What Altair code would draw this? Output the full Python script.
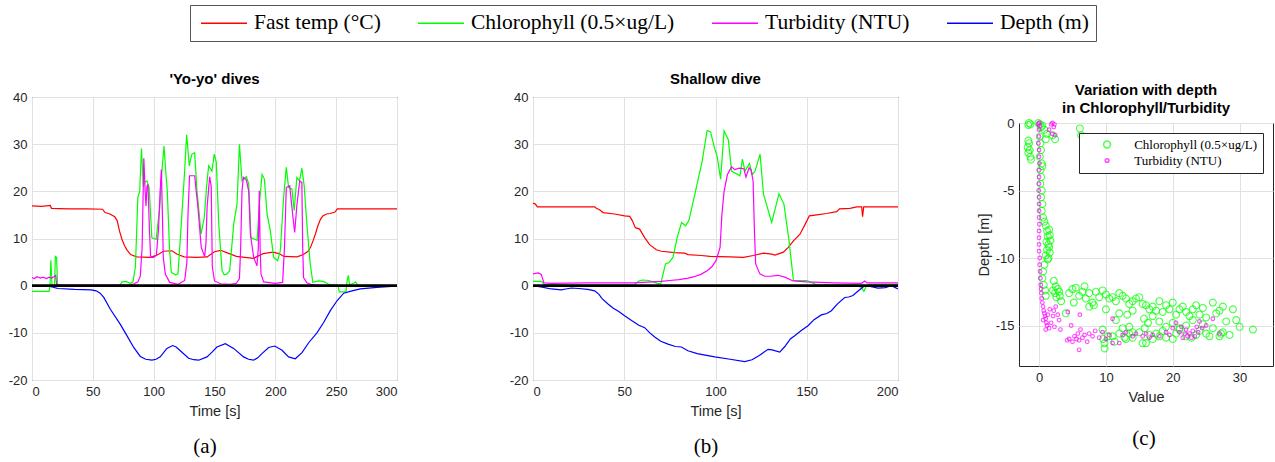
import altair as alt
import pandas as pd

# ---------------- categories / ticks ----------------
SERIES = ["Fast temp (°C)", "Chlorophyll (0.5×ug/L)", "Turbidity (NTU)", "Depth (m)"]
SERIES_COLORS = ["#ff0000", "#00ff00", "#ff00ff", "#0000ff"]
a_xticks = [0, 50, 100, 150, 200, 250, 300]
b_xticks = [0, 50, 100, 150, 200]
ab_yticks = [-20, -10, 0, 10, 20, 30, 40]
c_xticks = [0, 10, 20, 30]
c_yticks = [0, -5, -10, -15]

# ---------------- panel (a): 'Yo-yo' dives, (time s, value) ----------------
a_temp = [(0, 16.9), (8, 16.8), (15, 17.0), (16, 16.4), (30, 16.3), (45, 16.3), (58, 16.2), (60, 15.5),
          (64, 15.2), (68, 14.6), (70, 13.8), (72, 11.5), (74, 9.8), (76, 8.5), (78, 7.6), (81, 6.6),
          (86, 6.1), (97, 6.0), (103, 6.5), (108, 7.3), (115, 7.4), (119, 6.7), (125, 6.1), (135, 6.0),
          (144, 6.1), (150, 7.2), (155, 7.5), (160, 7.0), (168, 6.2), (175, 6.0), (182, 5.8), (190, 6.8),
          (198, 7.1), (203, 6.8), (207, 6.2), (218, 6.1), (223, 6.6), (227, 7.3), (229, 8.2), (231, 9.5),
          (233, 11.0), (235, 12.7), (237, 14.0), (239, 14.8), (242, 15.2), (245, 15.3), (249, 15.6),
          (251, 16.3), (270, 16.3), (300, 16.3)]
a_chl = [(0, -1.2), (14, -1.2), (14.8, 0), (15.5, 5.4), (16.5, 0), (18.5, 0), (19.2, 6.2), (20.2, 6.0),
         (21, 0), (40, 0), (72, 0), (74, 0.8), (77, 0.9), (81, 0.5), (83, 0.8), (85, 4), (87, 18.7),
         (88.5, 20), (90, 29.1), (91.5, 21), (92.5, 22), (94.5, 22.2), (96.3, 20.8), (98.5, 10.2),
         (102, 9.8), (105, 16.6), (107, 25), (108.5, 29.6), (110, 24), (111.2, 20.1), (113, 8),
         (114.5, 2.8), (118, 2.3), (120, 2.5), (122.7, 13.1), (125.3, 23.6), (127.1, 32), (129.3, 25.4),
         (130.5, 27), (131.5, 27.9), (133.7, 28.2), (135.6, 20.1), (137.5, 15), (138.9, 10.9),
         (141.6, 14.4), (143.5, 21), (145.2, 25.4), (147.9, 24.3), (149.8, 27.9), (151.5, 26.1),
         (153.5, 13.1), (156.2, 3.2), (158, 2.3), (160.3, 2.5), (162.5, 3.2), (165.8, 13.1),
         (168.5, 17.3), (170.5, 30), (172.6, 22.2), (176.2, 23.1), (178.1, 21.6), (180, 10.2),
         (185, 9.6), (187.1, 18), (189.1, 23.6), (191, 22.6), (193.2, 15.2), (195.9, 11.6), (198.6, 6),
         (201.9, 5.3), (204.1, 7.4), (206.8, 18.7), (209, 25.1), (210.9, 20.8), (213.6, 20.5),
         (215.5, 15.9), (217.7, 22.9), (219.9, 22.2), (221.8, 24.9), (223.7, 21.2), (225.9, 13.1),
         (228.7, 4.6), (230.8, 0.7), (235.5, 1.0), (239.6, 0.9), (243.7, 0.3), (251.5, 0.1),
         (252.5, -1.3), (258, -1.3), (259, 1), (260, 2.2), (261, 0.2), (264.3, 0.5), (266, 0.8),
         (267.5, 0.1), (300, 0)]
a_turb = [(0, 1.7), (2, 1.5), (4, 1.9), (7, 1.6), (9, 1.8), (12, 1.5), (14, 1.8), (16, 1.6), (18, 1.9),
          (19.5, 2.2), (20.2, 0.2), (25, 0.1), (80, 0.1), (84, 0.4), (87, 0.8), (89, 2), (90.5, 8),
          (91.9, 27), (93, 20), (93.7, 16.9), (94.5, 21), (95.3, 21.5), (96.5, 12), (97.5, 6), (100, 6),
          (102.2, 6.4), (104, 12), (105.3, 20), (106.3, 24.6), (107.2, 15), (107.9, 6), (109.6, 2.4),
          (113.2, 0.7), (120, 0.3), (125.5, 1.1), (127.3, 5), (128.2, 15), (129.5, 23.3), (133.7, 23.3),
          (135, 20), (136.4, 16.6), (139.1, 8.1), (141.9, 6.2), (143, 9), (143.9, 16.6), (146, 23.1),
          (147.3, 21), (148.2, 4), (150, 1), (155, 0.4), (163, 0.3), (168, 0.5), (170.5, 1.5),
          (171.5, 8), (172.6, 20), (173.7, 23), (176.2, 22.4), (178.1, 20.1), (179.5, 10.9), (182.2, 6),
          (184.9, 4.2), (186, 8), (186.8, 20.1), (187.5, 8), (188.2, 2.5), (190.4, 0.8), (200, 0.5),
          (206, 0.7), (207.5, 8), (209, 20.8), (211.8, 21.2), (214.5, 14.5), (215.9, 11.3),
          (217.8, 17.3), (220, 22.2), (221.8, 21.9), (222.5, 8), (223.2, 1.7), (225.9, 0.6), (230, 0.2),
          (240, 0), (300, 0)]
a_depth = [(14, -0.1), (21.4, -0.6), (35, -0.8), (48.7, -0.9), (52.8, -1.1), (56, -1.6), (59, -2.5),
           (64.4, -5.0), (72.6, -8.2), (78, -10.6), (83.6, -13.1), (89, -15.0), (93.5, -15.6),
           (98.6, -15.8), (102, -15.6), (105.4, -15.1), (110.9, -13.3), (115.6, -12.7), (118.5, -13.0),
           (121.9, -13.8), (128.7, -15.4), (133, -15.7), (137, -15.8), (143.8, -15.1), (148, -14.1),
           (152, -13.0), (158.9, -12.3), (165.7, -13.3), (173.9, -15.1), (178, -15.6), (182.1, -15.8),
           (185.5, -15.3), (189, -14.4), (194.5, -13.1), (199.5, -12.8), (205.5, -13.7), (210.9, -15.1),
           (216.4, -15.5), (221.9, -14.2), (227.4, -12.1), (234.2, -10), (239.7, -7.8), (245.2, -5.3),
           (250.7, -3.2), (256.2, -1.6), (263, -1.1), (269.8, -0.7), (283.5, -0.35), (298.6, -0.1),
           (300, -0.05)]

# ---------------- panel (b): Shallow dive ----------------
b_temp = [(0, 17.5), (1.3, 17.3), (2.4, 16.7), (20, 16.7), (33.8, 16.7), (34.7, 16.4), (36.5, 16.1),
          (38.4, 15.5), (44.7, 15.2), (50.2, 14.8), (53, 14.7), (54.4, 13.8), (56.1, 12.3), (58.4, 12.0),
          (61.2, 10.2), (63.9, 8.7), (67.6, 7.6), (70.3, 7.3), (77.6, 7.0), (83.1, 6.9), (84.9, 6.6),
          (92.2, 6.4), (97, 6.2), (108, 6.1), (115.3, 6.0), (120.8, 6.4), (126.2, 6.9), (130.8, 6.7),
          (132.6, 6.5), (137.2, 7.1), (139.9, 8.1), (142.7, 9.5), (146.3, 10.9), (149.1, 13.0),
          (151.4, 14.8), (155.5, 15.0), (160.9, 15.3), (166.4, 15.7), (167.9, 16.3), (173.7, 16.4),
          (177.4, 16.7), (180.1, 16.7), (180.6, 14.6), (181.2, 16.7), (200, 16.7)]
b_chl = [(0, 0.9), (4.6, 0.9), (6, 0.3), (20, 0.1), (55, 0.1), (58, 1.0), (60, 1.2), (63.5, 1.1), (68, 0.5),
         (70, 0.4), (72.6, 4.6), (74.5, 4.9), (76.7, 6.0), (79, 10.2), (81.4, 13.4), (83.6, 12.7),
         (85.4, 13.8), (89.1, 20.1), (92.7, 26.4), (95.4, 32.9), (97.3, 32.6), (99.2, 29.6), (101, 27.2),
         (102.8, 22.6), (104.7, 32.8), (107, 31), (108.8, 24.3), (113.4, 23.3), (114.7, 26.8),
         (116.2, 24.3), (118.6, 25.9), (120.2, 23.6), (121.7, 24.3), (124.4, 27.9), (126.3, 19.4),
         (130.8, 13.4), (134.8, 19.5), (137.5, 17.3), (140.3, 9.5), (142.7, 1.1), (150, 1.1),
         (151.8, 0.8), (155.5, 0.2), (178, 0.1), (180, -0.5), (181.3, -1.2), (182.5, -0.2), (184, 0.3),
         (200, 0.3)]
b_turb = [(0, 2.5), (3, 2.7), (4.5, 2.4), (6, 0.6), (10, 0.5), (30, 0.6), (55, 0.6), (65, 0.8), (70, 0.9),
          (75, 1.1), (80, 1.3), (85, 1.6), (88.3, 1.9), (92, 2.4), (95.6, 3.2), (98, 4), (100.3, 5.3),
          (102.5, 8.1), (103.5, 15), (104.7, 20), (106.5, 23.5), (108.8, 25.2), (110.5, 24.6), (113, 24.9),
          (115.5, 24.8), (116.7, 23), (118.4, 25), (119.5, 24.5), (120.6, 22.2), (121.3, 12), (122, 4.6),
          (124.3, 2.5), (127, 2.0), (130, 2.0), (134.3, 2.2), (138, 1.8), (142.5, 1.0), (150, 0.8),
          (165, 0.6), (180, 0.5), (181.8, 1.0), (183, 0.6), (200, 0.6)]
b_depth = [(0, 0), (5, -0.3), (10, -0.7), (15.5, -0.9), (18, -0.7), (21, -0.5), (25, -0.6), (30, -0.8),
           (33.8, -1.1), (36, -1.8), (38, -2.8), (41.1, -3.9), (44, -4.8), (47, -5.5), (50.2, -6.4),
           (54, -7.4), (58, -8.4), (61.2, -8.9), (64, -10), (66.7, -10.9), (70, -11.8), (74, -12.4),
           (78, -12.9), (81.3, -13.0), (84.9, -13.8), (90, -14.4), (99.6, -15.1), (108, -15.6),
           (116, -16.1), (120, -15.7), (124, -14.8), (128.8, -13.5), (131, -13.6), (135.2, -14.1),
           (138, -12.9), (141, -11.3), (143.4, -10.6), (147, -9.5), (150.7, -8.5), (154, -7.2),
           (158, -6.2), (161, -5.9), (163.5, -5.3), (167, -3.8), (170.8, -2.5), (173, -2.4),
           (175.3, -2.1), (178, -1.2), (181.7, 0), (184, -0.1), (189, -0.5), (193, -0.4), (196.3, 0),
           (200, -0.7)]

# ---------------- panel (c): (value, depth m) ----------------
chl_points = [
    (-1.5, 0), (-1.3, -0.1), (-1.6, -0.15), (-0.1, 0), (0.1, -0.1), (0.3, -0.3), (0.5, -0.2), (0.8, -0.5),
    (1.2, -0.8), (1.0, -1.2), (2.0, -0.9), (2.4, -1.2), (6.1, -0.4), (6.3, -0.9),
    (-1.6, -1.3), (-1.5, -1.5), (-1.7, -1.8), (-1.4, -2.0), (-1.6, -2.2), (-1.3, -2.5), (-1.2, -2.7),
    (0.1, -1.0), (0.2, -1.5), (0.3, -2.0), (0.1, -2.5), (0.4, -3.0), (0.2, -3.5), (0.5, -3.2), (0.3, -4.0),
    (0.2, -4.5), (0.4, -5.0), (0.3, -5.5), (0.5, -6.0), (0.4, -6.5), (0.6, -7.0), (0.8, -7.3), (1.0, -7.6),
    (1.2, -8.0), (1.3, -8.4), (1.1, -8.8), (1.4, -9.0), (1.2, -9.4), (1.0, -9.8), (1.3, -10.1), (0.8, -10.5),
    (0.6, -11.0), (0.5, -11.5), (0.7, -12.0), (0.9, -12.4), (1.0, -12.8),
    (1.5, -7.9), (1.6, -8.3), (1.7, -8.7), (1.5, -9.2), (1.6, -9.6), (1.4, -10.0),
    (2.2, -11.7), (2.5, -12.1), (2.8, -12.3), (2.4, -12.6), (3.0, -12.5), (2.6, -12.9), (3.1, -12.8),
    (2.1, -12.4), (3.3, -13.2), (5.2, -13.3), (6.8, -12.1),
    (4.5, -12.6), (5, -12.3), (5.5, -12.2), (6, -12.8), (6.5, -12.5), (7, -13), (7.5, -12.6), (8, -13.3),
    (8.5, -12.5), (9, -12.9), (9.5, -12.4), (10, -12.7), (10.5, -13), (11, -12.9), (11.5, -13.2),
    (12, -12.6), (12.5, -12.8), (13, -13), (13.5, -13.4), (14, -13.2), (14.5, -13), (15, -12.9),
    (15.5, -13.4), (16, -13.5), (16.5, -13.8), (17, -13.6), (17.5, -13.9), (18, -13.2), (18.5, -14),
    (19, -13.5), (19.5, -13.8), (20, -13.3), (20.5, -14.2), (21, -13.8), (21.5, -13.6), (22, -14),
    (22.5, -14.3), (23, -13.8), (23.5, -13.5), (24, -14.2), (24.5, -13.7), (25, -14.4), (26, -13.3),
    (26.5, -14.1), (27, -13.9), (27.5, -13.6), (28, -14.7), (29, -13.8), (29.5, -14.6), (30, -15.1),
    (32, -15.3), (26, -15.2), (27.2, -15.6), (28.5, -15.7),
    (4, -14.1), (7.5, -13.6), (8.2, -13.5), (10, -13.8), (11.5, -14.6), (12, -14.1), (13.2, -14.2),
    (14, -13.9), (15.7, -14.5), (16.3, -14.8), (17, -14.3), (18, -14.7), (19, -15.1), (20, -14.8),
    (21, -15.2), (22, -15), (23, -14.6), (24.5, -14.9), (25, -15.6), (18.5, -15.4),
    (9.5, -15.3), (9.6, -16), (9.8, -16.3), (9.8, -16.7), (10.3, -15.8), (11, -15.8), (12, -15.6),
    (12.5, -15.2), (13, -16), (13.5, -15.6), (14, -15.9), (15, -15.5), (15.5, -16.3), (16, -16.3),
    (16.5, -15.7), (17, -16), (17.5, -15.6), (18, -15.8), (19, -15.9), (20, -16), (20.5, -15.6),
    (21, -15.3), (22, -15.8), (22.8, -15.9), (23.5, -15.7), (24, -15.4), (25.5, -15.8), (27, -15.8),
    (27.5, -15.5), (13.5, -15.1), (14, -15.5), (11.3, -16.2), (12.8, -15.9), (15.8, -15.2)]
turb_points = [
    (0, 0), (-0.1, -0.1), (0.1, -0.2), (2.0, 0), (2.3, -0.1), (2.2, -0.3), (1.8, -0.1), (2.4, -0.9),
    (2.0, -0.8), (1.5, -0.5),
    (0, -0.5), (0, -1), (-0.1, -1.5), (0, -2), (0, -2.5), (0.05, -3), (0, -3.5), (0, -4), (0, -4.5),
    (-0.05, -5), (0, -5.5), (0, -6), (0, -6.5), (0, -7), (0.05, -7.5), (0, -8), (0, -8.5), (0, -9),
    (0, -9.5), (0.1, -10), (0.1, -10.5), (0.15, -11), (0.2, -11.5), (0.25, -12), (0.3, -12.3),
    (0.35, -12.6), (0.4, -13), (0.5, -13.3), (0.6, -13.6), (0.7, -13.9), (0.8, -14.1), (0.9, -14.3),
    (1.0, -14.5), (1.1, -14.8), (1.2, -15), (0.6, -14.6), (1.5, -15.2), (1.3, -14.2), (1.8, -14.8),
    (2.1, -14.3), (2.2, -13.9), (2.5, -13.6), (2.8, -14.2), (3.0, -14.6), (1.6, -13.8), (2.3, -15.1),
    (3.2, -15.3), (1.0, -15.3),
    (4.3, -14.0), (6.1, -14.2), (4.8, -15.0), (11, -14.5), (6, -16.8),
    (4.2, -16.1), (4.5, -16), (5, -16.2), (5.3, -15.8), (5.6, -16), (5.8, -15.6), (6, -16.1), (6.2, -15.3),
    (6.5, -15.9), (6.8, -15.7), (7.2, -16.2), (7.5, -15.6), (8, -15.8), (8.4, -15.4), (9, -15.9),
    (9.5, -15.5), (10, -16), (10.5, -15.7), (11, -16.3), (12, -16.3), (12.5, -15.7), (13, -15.5),
    (14, -15.8), (14.5, -15.6), (15.5, -15.8), (16, -15.6), (16.5, -15.9), (17, -15.7), (18, -15.8),
    (19, -15.5), (19.5, -15.7), (20, -15.2), (20.5, -14.8), (21, -15.5), (21.5, -15.9), (22, -15.3),
    (22.5, -15.6), (23, -15.4), (23.3, -15.8), (23.6, -15.1), (24, -14.7), (24.4, -15.2), (25, -15),
    (26, -14.5), (27, -15.6), (21.8, -15.6), (22.8, -15.9), (23.8, -15.5), (21.3, -15.1), (22.2, -15.8)]

# ---------------- styling helpers ----------------
SANS = "Liberation Sans"
SERIF = "Liberation Serif"
num_label = "toString(datum.value)"

top_legend = alt.Legend(
    title=None, orient="none", legendX=158, legendY=-92, direction="horizontal", columns=4,
    symbolType="M-2.3,0H2.3", symbolSize=400, symbolOffset=16, symbolStrokeWidth=1.5,
    labelFont=SERIF, labelFontSize=21.5, labelColor="black", labelOffset=19, labelLimit=400,
    columnPadding=33, padding=7, strokeColor="#555555", fillColor="white")
series_color = alt.Color("series:N", scale=alt.Scale(domain=SERIES, range=SERIES_COLORS), legend=top_legend)


def to_df(pairs, name):
    return pd.DataFrame({"t": [p[0] for p in pairs], "v": [p[1] for p in pairs], "series": name})


def time_panel(series_pairs, xmax, xticks, title, caption):
    df = pd.concat([to_df(p, s) for p, s in zip(series_pairs, SERIES)], ignore_index=True)
    x = alt.X("t:Q", scale=alt.Scale(domain=[0, xmax], nice=False, zero=False),
              axis=alt.Axis(values=xticks, title="Time [s]", labelExpr=num_label, titlePadding=6))
    y = alt.Y("v:Q", scale=alt.Scale(domain=[-20, 40], nice=False),
              axis=alt.Axis(values=ab_yticks, title=None, labelExpr=num_label))
    layers = [alt.Chart(df).transform_filter(alt.datum.series == s)
              .mark_line(strokeWidth=1.2, clip=True).encode(x=x, y=y, color=series_color)
              for s in SERIES]
    zero = alt.Chart(pd.DataFrame({"v": [0]})).mark_rule(color="black", strokeWidth=2.6).encode(y="v:Q")
    cap = (alt.Chart(pd.DataFrame({"c": [caption]}))
           .mark_text(font=SERIF, fontSize=21, color="black")
           .encode(text="c:N", x=alt.value(173), y=alt.value(350)))
    return alt.layer(*layers, zero, cap).properties(width=365, height=283, title=title)


pa = time_panel([a_temp, a_chl, a_turb, a_depth], 300, a_xticks, "'Yo-yo' dives", "(a)")
pb = time_panel([b_temp, b_chl, b_turb, b_depth], 200, b_xticks, "Shallow dive", "(b)")

CHL, TURB = SERIES[1], SERIES[2]
cdf = pd.concat([
    pd.DataFrame({"val": [p[0] for p in chl_points], "depth": [p[1] for p in chl_points], "var": CHL}),
    pd.DataFrame({"val": [p[0] for p in turb_points], "depth": [p[1] for p in turb_points], "var": TURB}),
], ignore_index=True)

c_legend = alt.Legend(title=None, orient="top-right", offset=10, padding=5, strokeColor="#262626",
                      fillColor="white", labelFont=SERIF, labelFontSize=13, labelColor="black",
                      labelLimit=300, symbolOffset=16.6, labelOffset=20.6, rowPadding=2)
pts = alt.Chart(cdf).mark_point(filled=False, shape="circle", strokeWidth=1.1).encode(
    x=alt.X("val:Q", scale=alt.Scale(domain=[-3, 35], nice=False, zero=False),
            axis=alt.Axis(values=c_xticks, title="Value", labelExpr=num_label, titlePadding=6)),
    y=alt.Y("depth:Q", scale=alt.Scale(domain=[-18, 0], nice=False),
            axis=alt.Axis(values=c_yticks, title="Depth [m]", labelExpr=num_label, titlePadding=4)),
    stroke=alt.Stroke("var:N", scale=alt.Scale(domain=[CHL, TURB], range=["#00ff00", "#ff00ff"]),
                      legend=c_legend),
    size=alt.Size("var:N", scale=alt.Scale(domain=[CHL, TURB], range=[48, 14]), legend=c_legend),
)
ccap = (alt.Chart(pd.DataFrame({"c": ["(c)"]}))
        .mark_text(font=SERIF, fontSize=21, color="black")
        .encode(text="c:N", x=alt.value(125), y=alt.value(316)))
pc = alt.layer(pts, ccap).properties(width=254, height=243)

ctitle = (alt.Chart(pd.DataFrame({"t": ["Variation with depth\nin Chlorophyll/Turbidity"]}))
          .mark_text(font=SANS, fontSize=15, fontWeight="bold", baseline="top", lineBreak="\n",
                     lineHeight=18, color="black")
          .encode(text="t:N", x=alt.value(127), y=alt.value(-14.5))
          .properties(width=254, height=1, view=alt.ViewBackground(stroke="transparent")))

cwrap = (alt.vconcat(ctitle, pc, spacing=0)
         .resolve_scale(stroke="independent", size="independent")
         .resolve_legend(stroke="independent", size="independent"))

ab = alt.hconcat(pa, pb, spacing=109)

chart = (alt.hconcat(ab, cwrap, spacing=75)
         .resolve_scale(stroke="independent", size="independent")
         .resolve_legend(stroke="independent", size="independent")
         .properties(padding={"left": 7, "top": 4, "right": 0, "bottom": 0}, background="white")
         .configure_view(stroke="#262626", strokeWidth=1)
         .configure_axis(domain=False, ticks=False, grid=True, gridColor="#e1e1e1", gridWidth=1,
                         labelFont=SANS, labelFontSize=13, labelColor="#262626", labelPadding=5,
                         titleFont=SANS, titleFontSize=14.5, titleFontWeight="normal",
                         titleColor="#262626")
         .configure_title(font=SANS, fontSize=15, fontWeight="bold", color="black", offset=4,
                          anchor="middle"))

chart.save("out.html", embed_options={"renderer": "svg", "actions": False})
